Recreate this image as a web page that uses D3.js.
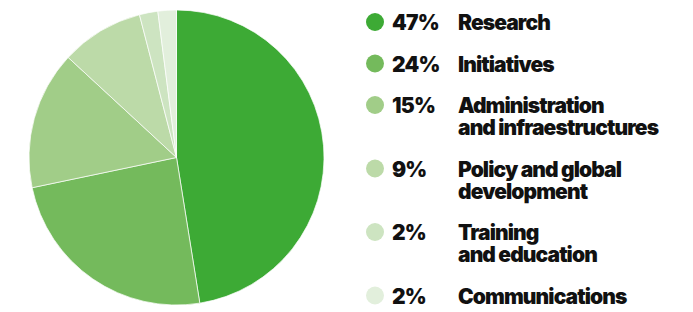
<!DOCTYPE html>
<html>
<head>
<meta charset="utf-8">
<script src="https://cdn.jsdelivr.net/npm/d3@7"></script>
<style>
  html, body { margin: 0; padding: 0; background: #fff; }
  svg { display: block; }
  text { font-family: Inter, "Noto Sans", sans-serif; font-weight: 900; fill: #111; }
</style>
</head>
<body>
<svg id="chart" width="693" height="312"></svg>
<script>
const categories = [
  ["Research"],
  ["Initiatives"],
  ["Administration", "and infraestructures"],
  ["Policy and global", "development"],
  ["Training", "and education"],
  ["Communications"]
];
const values = [47, 24, 15, 9, 2, 2];
const percentLabels = ["47%", "24%", "15%", "9%", "2%", "2%"];
const colors = ["#3daa35", "#74ba5c", "#a1cd88", "#bcdaa8", "#cde4c1", "#e2efdc"];

const svg = d3.select("#chart");
const cx = 176.5, cy = 157.5, r = 147.5;

const data = values.map((v, i) => ({ v, i }));
const pie = d3.pie().value(d => d.v).sort(null);
const arc = d3.arc().innerRadius(0).outerRadius(r);

svg.append("g")
  .attr("transform", `translate(${cx},${cy})`)
  .selectAll("path")
  .data(pie(data))
  .join("path")
  .attr("d", arc)
  .attr("fill", d => colors[d.data.i])
  .attr("stroke", "#ffffff")
  .attr("stroke-width", 0.7);

// Legend
const legend = svg.append("g");
const lineH = 22, gap = 41.5;
let y = 30;
categories.forEach((lines, i) => {
  const g = legend.append("g");
  g.append("circle").attr("cx", 375).attr("cy", y - 8).attr("r", 9).attr("fill", colors[i]);
  g.append("text").attr("x", 392).attr("y", y)
    .attr("font-size", 21).attr("letter-spacing", -0.8)
    .text(percentLabels[i]);
  lines.forEach((ln, j) => {
    g.append("text").attr("x", 458).attr("y", y + j * lineH)
      .attr("font-size", 21).attr("letter-spacing", -0.9)
      .text(ln);
  });
  y += (lines.length - 1) * lineH + gap;
});
</script>
</body>
</html>
